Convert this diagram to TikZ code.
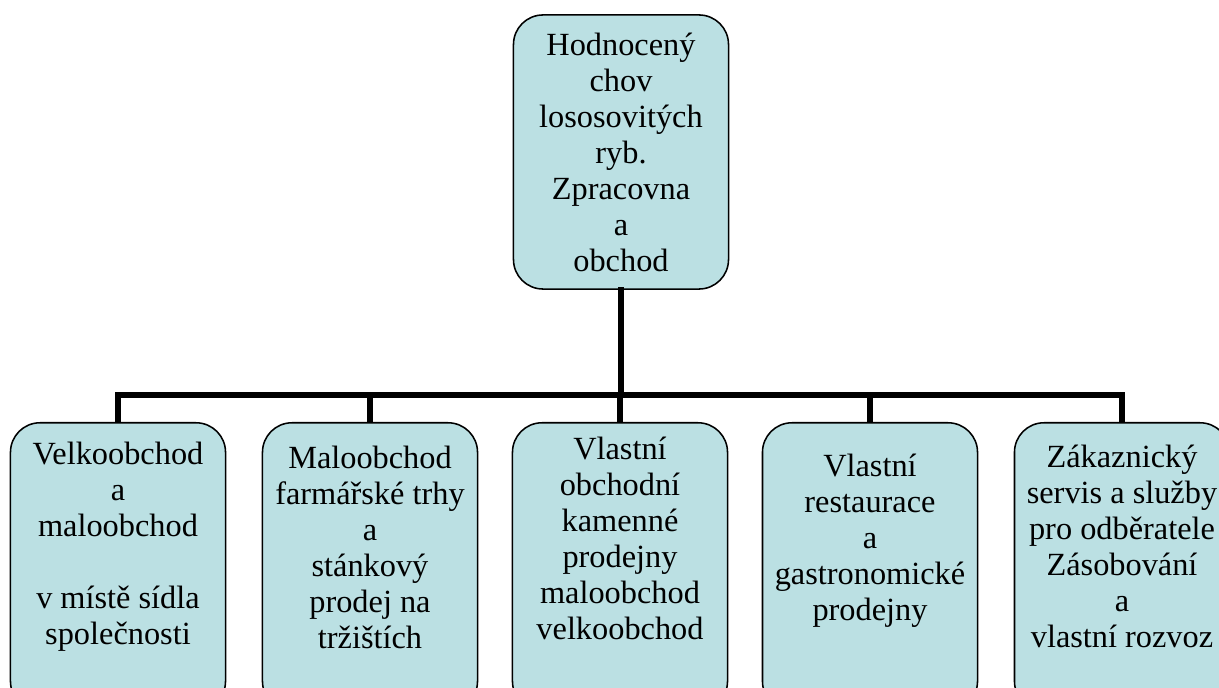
\documentclass[tikz,border=0pt]{standalone}
\usepackage{fontspec}
\setmainfont{Liberation Serif}
\usetikzlibrary{positioning}
\definecolor{boxblue}{RGB}{187,224,227}
\tikzset{
    boxT/.style={draw, line width=1.1pt, fill=boxblue, rounded corners=21pt,
        minimum width=5.375cm, minimum height=6.85cm, align=center,
        font=\fontsize{23}{25.6}\selectfont},
    boxL/.style={draw, line width=1.1pt, fill=boxblue, rounded corners=21pt,
        minimum width=5.375cm, minimum height=7.2cm, anchor=north},
    txtL/.style={align=center, inner sep=0pt, font=\fontsize{23}{25.6}\selectfont},
    bareT/.style={line width=3.6pt, line join=miter, line cap=rect}
}

\begin{document}
\begin{tikzpicture}[x=0.025cm, y=-0.025cm]
    \useasboundingbox (0,0) rectangle (1219,688);
    \clip (0,0) rectangle (1219,688);
    \coordinate (bus) at (621,395);
    % root
    \node[boxT] (root) at (621,152) {Hodnocený\\chov\\lososovitých\\ryb.\\Zpracovna\\a\\obchod};
    % leaves
    \node[boxL] (l1) at (118,422) {};
    \node[boxL] (l2) at (370,422) {};
    \node[boxL] (l3) at (620,422) {};
    \node[boxL] (l4) at (870,422) {};
    \node[boxL] (l5) at (1122,422) {};
    \node[txtL] (t1) at (118,547) {Velkoobchod\\a\\maloobchod\\\mbox{}\\v místě sídla\\společnosti};
    \node[txtL] (t2) at (370,547) {Maloobchod\\farmářské trhy\\a\\stánkový\\prodej na\\tržištích};
    \node[txtL] (t3) at (620,538) {Vlastní\\obchodní\\kamenné\\prodejny\\maloobchod\\velkoobchod};
    \node[txtL] (t4) at (870,541) {Vlastní\\restaurace\\a\\gastronomické\\prodejny};
    \node[txtL] (t5) at (1122,546) {Zákaznický\\servis a služby\\pro odběratele\\Zásobování\\a\\vlastní rozvoz};
    % connectors
    \draw[bareT] (root.south) -- (bus);
    \draw[bareT, line cap=butt] (l1.north) -- (l1.north |- bus) -- (l5.north |- bus) -- (l5.north);
    \draw[bareT, line cap=butt] (l2.north |- bus) -- (l2.north);
    \draw[bareT, line cap=butt] (l3.north |- bus) -- (l3.north);
    \draw[bareT, line cap=butt] (l4.north |- bus) -- (l4.north);
\end{tikzpicture}
\end{document}
